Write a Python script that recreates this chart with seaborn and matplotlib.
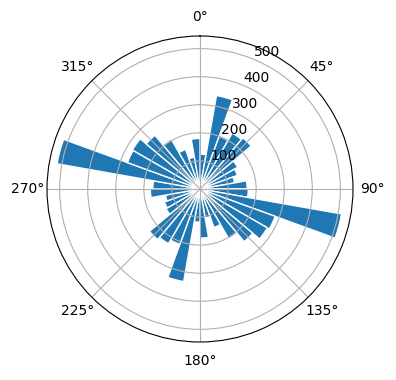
import numpy as np
import matplotlib
matplotlib.use("Agg")
import matplotlib.pyplot as plt
import seaborn as sns

# Bin start angles (degrees, compass, clockwise from north)
bin_start_deg = [0, 10, 20, 30, 40, 50, 60, 70, 80, 90, 100, 110,
                 120, 130, 140, 150, 160, 170, 180, 190, 200, 210, 220, 230,
                 240, 250, 260, 270, 280, 290, 300, 310, 320, 330, 340, 350]
counts = [124, 338, 200, 230, 238, 155, 142, 125, 168, 172, 512, 285,
          277, 245, 205, 146, 105, 175, 118, 335, 210, 225, 235, 140,
          135, 125, 177, 168, 517, 275, 278, 250, 205, 150, 115, 180]
bin_width_deg = 10
theta_tick_labels = ["0°", "45°", "90°", "135°", "180°", "225°", "270°", "315°"]

color = sns.color_palette("tab10")[0]

fig = plt.figure(figsize=(3.96, 3.8), dpi=100)
ax = fig.add_axes([0.1187, 0.1, 0.7727, 0.8053], projection="polar")
ax.set_theta_zero_location("N")
ax.set_theta_direction(-1)

ax.bar(np.deg2rad(bin_start_deg), counts, width=np.deg2rad(bin_width_deg),
       align="edge", color=color, edgecolor="white", linewidth=1)

ax.set_xticks(np.deg2rad([0, 45, 90, 135, 180, 225, 270, 315]))
ax.set_xticklabels(theta_tick_labels)
ax.set_yticks([100, 200, 300, 400, 500])
ax.set_ylim(0, 545)

fig.savefig("out.png", dpi=100)
